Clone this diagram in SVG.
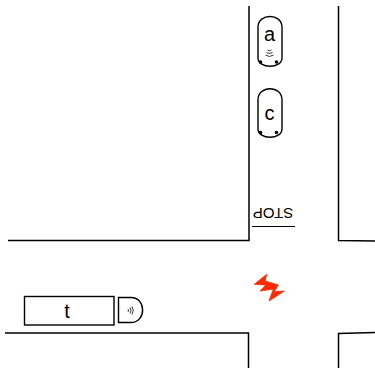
<svg xmlns="http://www.w3.org/2000/svg" width="375" height="368" viewBox="0 0 375 368">
<style>
.r{fill:none;stroke:#000;stroke-width:1.5}
.s{fill:#fff;stroke:#000;stroke-width:1.4}
.w{fill:none;stroke:#000;stroke-width:.8}
.t{font-family:"Liberation Sans",Arial,sans-serif;fill:#000;text-anchor:middle}
.d{fill:#000}
</style>
<g id="roads">
<path class="r" d="M8 240.500H249V6"/>
<path class="r" d="M338.500 6V240.500L375 241"/>
<path class="r" d="M5 333H248.500V368"/>
<path class="r" d="M338.500 368V333.500L375 332.500"/>
</g>
<g id="stop">
<path d="M252 226.500H295" stroke="#000" stroke-width="1.2" fill="none"/>
<text class="t" font-size="15" transform="translate(273 208) rotate(180)">STOP</text>
</g>
<g id="a">
<path class="s" d="M258 27C258 13 282 13 282 27V58C282 69 258 69 258 58Z"/>
<text class="t" font-size="20" x="269.500" y="41">a</text>
<circle class="d" cx="260.500" cy="62" r="1.800"/><circle class="d" cx="276.500" cy="62" r="1.800"/>
<path class="w" d="M265.500 55Q269.500 58 273.500 55M266.500 52.500Q269.500 54.500 272.500 52.500M267.500 50Q269.500 51.500 271.500 50"/>
</g>
<g id="c">
<path class="s" d="M258 100C258 85 282 85 282 100V129C282 140 258 140 258 129Z"/>
<text class="t" font-size="20" x="269.500" y="120">c</text>
<circle class="d" cx="260.500" cy="132.500" r="1.800"/><circle class="d" cx="276.500" cy="132.500" r="1.800"/>
</g>
<g id="t">
<rect class="s" x="24.500" y="296.500" width="89.500" height="28.500"/>
<text class="t" font-size="20" x="67" y="318">t</text>
</g>
<g id="sensor">
<path class="s" d="M118.500 297.500H131C146.500 297.500 146.500 322.500 131 322.500H118.500Z"/>
<path class="w" d="M128 309Q129 310.500 128 312M130 307.500Q132 310.500 130 313.500M132 306.500Q134.500 310.500 132 314.500"/>
</g>
<g id="flash">
<path fill="#ff2a00" stroke="#ff2a00" stroke-width=".8" d="M266.700 274.300L254.300 284.300L265.700 285L260 291L273.300 289L269 301L284.300 291L274.300 291.700L278.300 285L265 281Z"/>
</g>
</svg>
